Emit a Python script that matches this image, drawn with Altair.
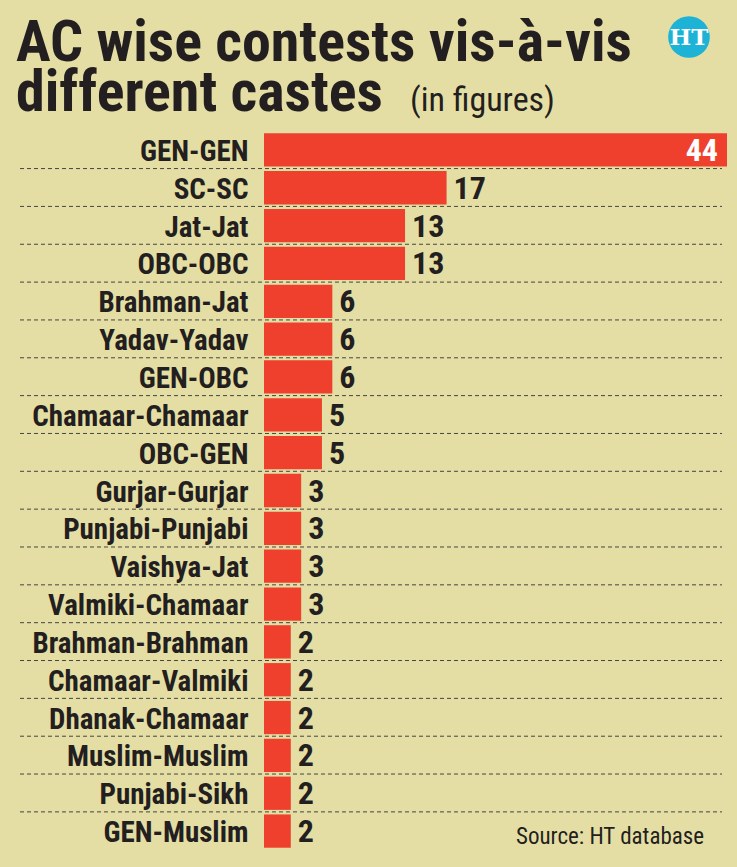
import altair as alt
import pandas as pd

categories = ["GEN-GEN", "SC-SC", "Jat-Jat", "OBC-OBC", "Brahman-Jat", "Yadav-Yadav",
              "GEN-OBC", "Chamaar-Chamaar", "OBC-GEN", "Gurjar-Gurjar", "Punjabi-Punjabi",
              "Vaishya-Jat", "Valmiki-Chamaar", "Brahman-Brahman", "Chamaar-Valmiki",
              "Dhanak-Chamaar", "Muslim-Muslim", "Punjabi-Sikh", "GEN-Muslim"]
values = [44, 17, 13, 13, 6, 6, 6, 5, 5, 3, 3, 3, 3, 2, 2, 2, 2, 2, 2]

title_line1 = "AC wise contests vis-à-vis"
title_line2 = "different castes"
title_note = "(in figures)"
source_text = "Source: HT database"
logo_text = "HT"

BG = "#E5DEA4"
RED = "#EE402D"
INK = "#231F20"
CYAN = "#1DB3D6"
COND = "'Roboto Condensed', 'Open Sans Condensed', 'DejaVu Sans Condensed', sans-serif"
XMIN = -0.58

df = pd.DataFrame({"cat": categories, "value": values})
df["inside"] = df["value"] >= 40

W, H = 463, 719

y_scale = alt.Scale(paddingInner=0.12, paddingOuter=0.06)
y_axis = alt.Axis(title=None, ticks=False, domain=False, labelFont=COND,
                  labelFontSize=29, labelFontWeight="bold", labelColor=INK,
                  labelPadding=16, labelLimit=400, labelOffset=2)
x_scale = alt.Scale(domain=[XMIN, 44], nice=False, zero=False)

base = alt.Chart(df)

bars = base.mark_bar(color=RED).encode(
    y=alt.Y("cat:N", sort=categories, scale=y_scale, axis=y_axis),
    x=alt.X("value:Q", scale=x_scale, axis=None),
    x2=alt.datum(XMIN)
)

rules = base.transform_filter(alt.datum.cat != categories[-1]).mark_rule(
    color="#444444", strokeWidth=1, strokeDash=[4, 3], yOffset=2
).encode(
    y=alt.Y("cat:N", sort=categories, bandPosition=1, scale=y_scale, axis=y_axis),
    x=alt.value(-244), x2=alt.value(458)
)

labels_out = base.transform_filter("!datum.inside").mark_text(
    align="left", baseline="middle", dx=7, dy=1, font=COND, fontSize=32,
    fontWeight="bold", color=INK
).encode(y=alt.Y("cat:N", sort=categories), x=alt.X("value:Q", scale=x_scale), text="value:Q")

labels_in = base.transform_filter("datum.inside").mark_text(
    align="right", baseline="middle", dx=-9, dy=1, font=COND, fontSize=32,
    fontWeight="bold", color="white"
).encode(y=alt.Y("cat:N", sort=categories), x=alt.X("value:Q", scale=x_scale), text="value:Q")


def note(text, x, y, size, weight="normal", color=INK, font=COND, align="left"):
    return alt.Chart(pd.DataFrame({"t": [text]})).mark_text(
        align=align, baseline="alphabetic", font=font, fontSize=size,
        fontWeight=weight, color=color
    ).encode(x=alt.value(x), y=alt.value(y), text="t:N")


t1 = note(title_line1, -248, -70, 58, "bold")
t2 = note(title_line2, -248, -20, 58, "bold")
t3 = note(title_note, 146, -20, 34)
src = note(source_text, 252, 713, 23)

logo = alt.Chart(pd.DataFrame({"t": [logo_text]})).mark_point(
    filled=True, color=CYAN, opacity=1, size=1735, shape="circle"
).encode(x=alt.value(425), y=alt.value(-94))
logo_t = alt.Chart(pd.DataFrame({"t": [logo_text]})).mark_text(
    align="center", baseline="middle", font="'DejaVu Serif', serif", fontSize=23,
    fontWeight="bold", color="white", dy=1
).encode(x=alt.value(425), y=alt.value(-94), text="t:N")

chart = alt.layer(bars, rules, labels_out, labels_in, t1, t2, t3, src, logo, logo_t).properties(
    width=W, height=H,
    background=BG,
    padding={"left": 264, "top": 131, "right": 10, "bottom": 17},
    autosize=alt.AutoSizeParams(type="none")
).configure_view(stroke=None)

chart.save("out.html", embed_options={"renderer": "svg", "actions": False})
